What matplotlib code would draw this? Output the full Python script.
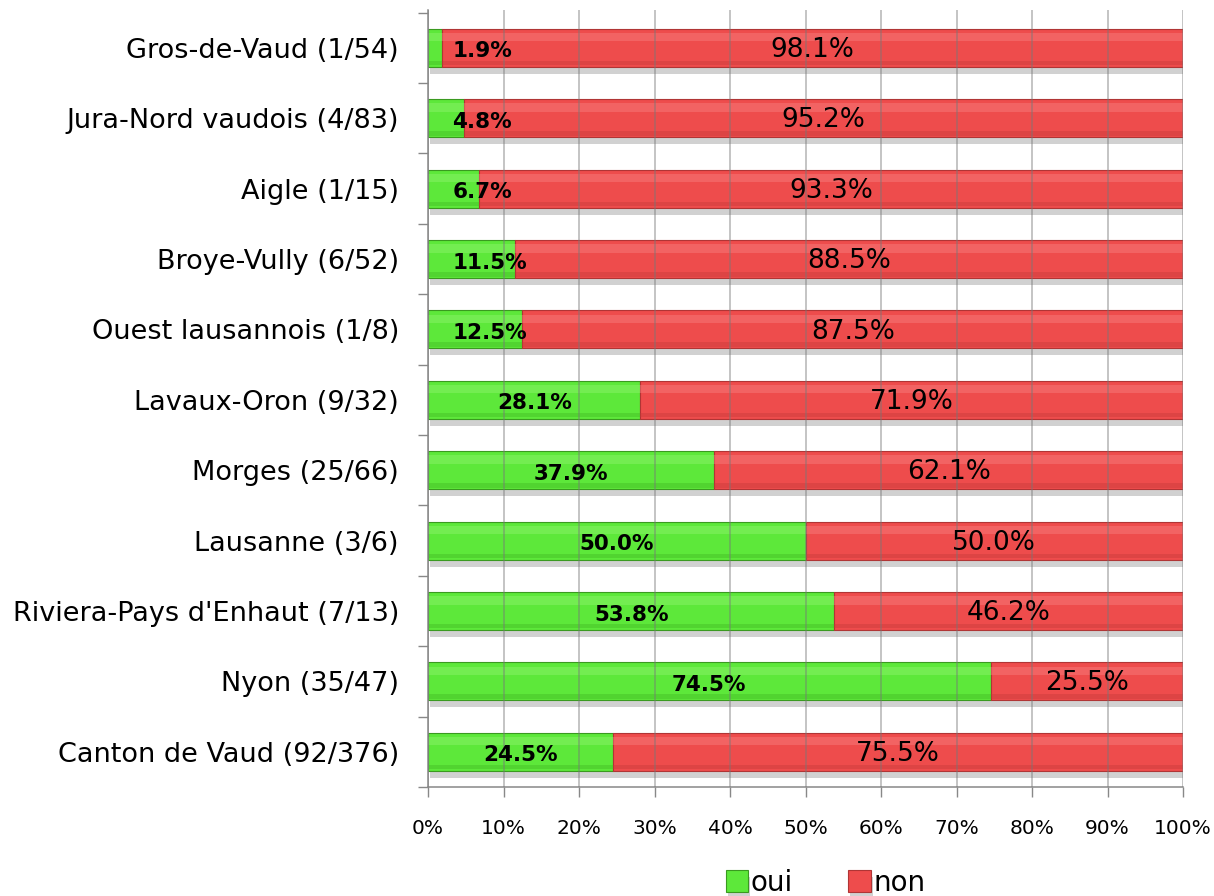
import numpy as np
import matplotlib.pyplot as plt
import matplotlib.patheffects as pe

# data, top to bottom as in the chart
districts = ["Gros-de-Vaud (1/54)", "Jura-Nord vaudois (4/83)", "Aigle (1/15)",
             "Broye-Vully (6/52)", "Ouest lausannois (1/8)", "Lavaux-Oron (9/32)",
             "Morges (25/66)", "Lausanne (3/6)", "Riviera-Pays d'Enhaut (7/13)",
             "Nyon (35/47)", "Canton de Vaud (92/376)"]
oui = [1.9, 4.8, 6.7, 11.5, 12.5, 28.1, 37.9, 50.0, 53.8, 74.5, 24.5]
non = [98.1, 95.2, 93.3, 88.5, 87.5, 71.9, 62.1, 50.0, 46.2, 25.5, 75.5]
xticks = np.arange(0, 101, 10)

green = '#5de83a'
red = '#ee4c4c'

fig = plt.figure(figsize=(12.14, 8.96), dpi=100)
ax = fig.add_axes([0.3526, 0.1217, 0.6219, 0.8673])

n = len(districts)
y = np.arange(n)[::-1]
h = 0.54
shadow = [pe.SimplePatchShadow(offset=(1.5, -5), shadow_rgbFace='#999999', alpha=0.45), pe.Normal()]

b1 = ax.barh(y, oui, height=h, color=green, edgecolor='#3a9a20', linewidth=0.8, label='oui')
b2 = ax.barh(y, non, left=oui, height=h, color=red, edgecolor='#b03535', linewidth=0.8, label='non')
for b in list(b1) + list(b2):
    b.set_path_effects(shadow)

# bevel highlights
ax.barh(y + h * 0.28, oui, height=h * 0.22, color='#8ef46e', alpha=0.45, linewidth=0)
ax.barh(y + h * 0.28, non, left=oui, height=h * 0.22, color='#f78080', alpha=0.45, linewidth=0)
ax.barh(y - h * 0.4, oui, height=h * 0.12, color='#3fb822', alpha=0.4, linewidth=0)
ax.barh(y - h * 0.4, non, left=oui, height=h * 0.12, color='#c43a3a', alpha=0.4, linewidth=0)

for yi, o, nn in zip(y, oui, non):
    if o < 15:
        ax.text(3.2, yi - 0.05, f"{o:.1f}%", ha='left', va='center', fontsize=15.5, fontweight='bold', color='black')
    else:
        ax.text(o / 2, yi - 0.05, f"{o:.1f}%", ha='center', va='center', fontsize=15.5, fontweight='bold', color='black')
    ax.text(o + nn / 2, yi - 0.03, f"{nn:.1f}%", ha='center', va='center', fontsize=19, color='black')

ax.set_xlim(0, 100)
ax.set_ylim(-0.48, n - 1 + 0.54)
ax.set_xticks(xticks)
ax.set_xticklabels([f"{v}%" for v in xticks], fontsize=14.5)
ax.set_yticks(y)
ax.set_yticklabels(districts, fontsize=19.5)
ax.set_yticks(np.arange(-0.5, n, 1), minor=True)
ax.tick_params(axis='y', which='major', length=0, pad=21)
ax.tick_params(axis='y', which='minor', length=7, color='#888888', width=1)
ax.tick_params(axis='x', length=7, color='#888888', width=1, pad=16)

ax.set_axisbelow(False)
ax.grid(axis='x', color='#777777', alpha=0.55, linewidth=1.1)
for s in ['top', 'right']:
    ax.spines[s].set_visible(False)
for s in ['left', 'bottom']:
    ax.spines[s].set_color('#888888')
    ax.spines[s].set_linewidth(1.1)

fig.legend(handles=[b1, b2], labels=['oui', 'non'], loc='center', bbox_to_anchor=(0.68, 0.015),
           ncol=2, frameon=False, fontsize=20, handlelength=0.8, handleheight=0.8,
           handletextpad=0.1, columnspacing=2.0)

fig.savefig('out.png', dpi=100)
